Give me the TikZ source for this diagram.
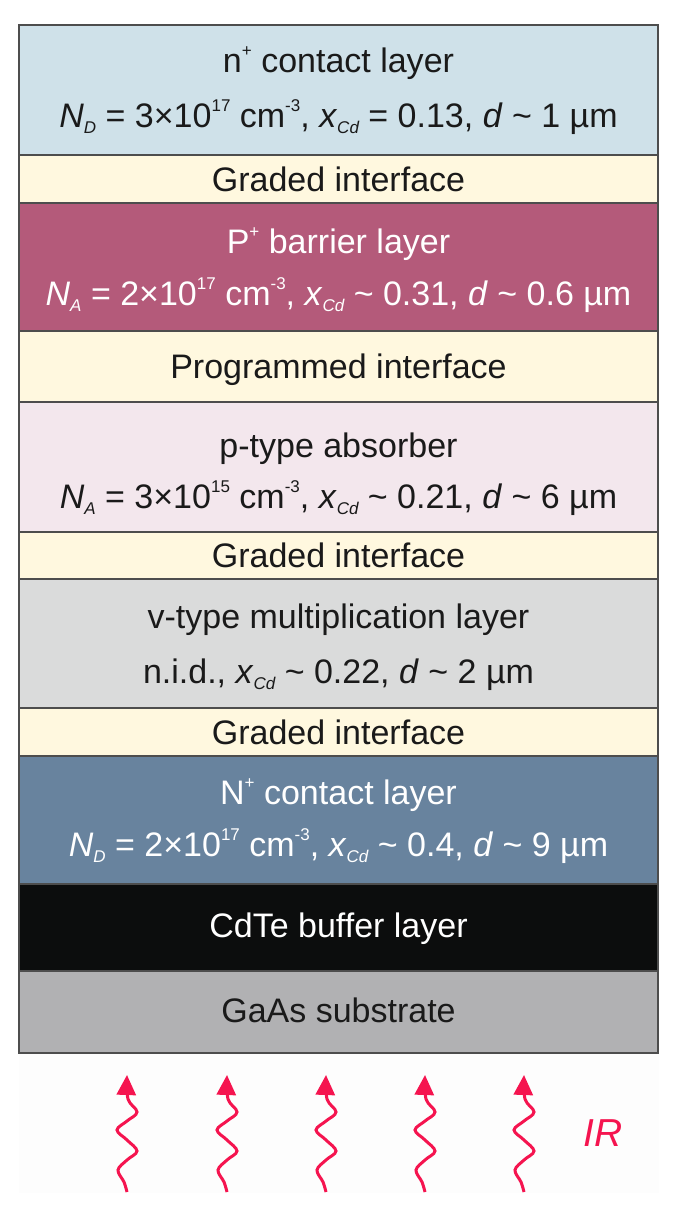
\documentclass[tikz,border=0pt]{standalone}
\usepackage{fontspec}
\setmainfont{Liberation Sans}
\usetikzlibrary{arrows.meta,calc}
\definecolor{cTopN}{HTML}{CFE1E9}
\definecolor{cGraded}{HTML}{FFF8DF}
\definecolor{cBarrier}{HTML}{B45A7A}
\definecolor{cAbsorber}{HTML}{F3E7ED}
\definecolor{cMult}{HTML}{DADBDB}
\definecolor{cBotN}{HTML}{68839E}
\definecolor{cBuffer}{HTML}{0C0D0D}
\definecolor{cSubstrate}{HTML}{B1B1B3}
\definecolor{cBorder}{HTML}{4D4D4D}
\definecolor{cLight}{HTML}{FDFDFD}
\definecolor{cIR}{HTML}{F5144F}
\definecolor{cDark}{HTML}{1A1A1A}
\newcommand{\mysup}[1]{\raisebox{16pt}{\fontsize{17}{17}\selectfont #1}}
\newcommand{\mysub}[1]{\raisebox{-6pt}{\fontsize{17}{17}\selectfont\itshape #1}}
\newcommand{\tld}{\textasciitilde}
\begin{document}
\begin{tikzpicture}[x=1pt,y=-1pt,
  layerbox/.style={draw=cBorder, line width=1.5pt, minimum width=639pt, inner sep=0pt, outer sep=0pt, rectangle},
  lbl/.style={anchor=base, font=\fontsize{34}{40}\selectfont, inner sep=0pt, text=cDark},
  lblw/.style={lbl, text=white},
  irwave/.style={draw=cIR, line width=3pt, -{Triangle[width=19pt,length=20pt]}}]
\useasboundingbox (0,0) rectangle (695,1210);
% layers
\node[layerbox, fill=cTopN, minimum height=130pt] (nplus) at (338.5,90) {};
\node[layerbox, fill=cGraded, minimum height=48pt] (grad1) at (338.5,179) {};
\node[layerbox, fill=cBarrier, minimum height=128pt] (pplus) at (338.5,267) {};
\node[layerbox, fill=cGraded, minimum height=71pt] (prog) at (338.5,366.5) {};
\node[layerbox, fill=cAbsorber, minimum height=130pt] (ptype) at (338.5,467) {};
\node[layerbox, fill=cGraded, minimum height=47pt] (grad2) at (338.5,555.5) {};
\node[layerbox, fill=cMult, minimum height=129pt] (vtype) at (338.5,643.5) {};
\node[layerbox, fill=cGraded, minimum height=48pt] (grad3) at (338.5,732) {};
\node[layerbox, fill=cBotN, minimum height=128pt] (Nplus) at (338.5,820) {};
\node[layerbox, fill=cBuffer, minimum height=87pt] (cdte) at (338.5,927.5) {};
\node[layerbox, fill=cSubstrate, minimum height=82pt] (gaas) at (338.5,1012) {};
% texts
\node[lbl] (nplusA) at (338.5,72) {n\mysup{+} contact layer};
\node[lbl] (nplusB) at (338.5,127) {\textit{N}\mysub{D} = 3×10\mysup{17} cm\mysup{-3}, \textit{x}\mysub{Cd} = 0.13, \textit{d} \tld{} 1 µm};
\node[lbl] (grad1t) at (338.5,191) {Graded interface};
\node[lblw] (pplusA) at (338.5,253) {P\mysup{+} barrier layer};
\node[lblw] (pplusB) at (338.5,305) {\textit{N}\mysub{A} = 2×10\mysup{17} cm\mysup{-3}, \textit{x}\mysub{Cd} \tld{} 0.31, \textit{d} \tld{} 0.6 µm};
\node[lbl] (progt) at (338.5,378.5) {Programmed interface};
\node[lbl] (ptypeA) at (338.5,457) {p-type absorber};
\node[lbl] (ptypeB) at (338.5,508) {\textit{N}\mysub{A} = 3×10\mysup{15} cm\mysup{-3}, \textit{x}\mysub{Cd} \tld{} 0.21, \textit{d} \tld{} 6 µm};
\node[lbl] (grad2t) at (338.5,567.5) {Graded interface};
\node[lbl] (vtypeA) at (338.5,628) {v-type multiplication layer};
\node[lbl] (vtypeB) at (338.5,683) {n.i.d., \textit{x}\mysub{Cd} \tld{} 0.22, \textit{d} \tld{} 2 µm};
\node[lbl] (grad3t) at (338.5,744) {Graded interface};
\node[lblw] (NplusA) at (338.5,804) {N\mysup{+} contact layer};
\node[lblw] (NplusB) at (338.5,856) {\textit{N}\mysub{D} = 2×10\mysup{17} cm\mysup{-3}, \textit{x}\mysub{Cd} \tld{} 0.4, \textit{d} \tld{} 9 µm};
\node[lblw] (cdtet) at (338.5,937) {CdTe buffer layer};
\node[lbl] (gaast) at (338.5,1022) {GaAs substrate};
% IR region
\fill[cLight] (19,1054) rectangle (659,1193);
\foreach \i/\xx in {1/127,2/227,3/326,4/425,5/524} {
  \coordinate (ir\i) at (\xx,1192);
  \draw[irwave, shift={(ir\i)}] plot[smooth, tension=0.6] coordinates
    {(0,0) (-3,-10) (-9,-22) (0,-32) (10,-41) (0,-52) (-10,-62) (0,-71) (10,-80) (1,-93) (0,-117)};
}
\node[anchor=base, text=cIR, font=\fontsize{39}{40}\selectfont\itshape, inner sep=0pt] (irlabel) at (603,1146) {IR};
\end{tikzpicture}
\end{document}
